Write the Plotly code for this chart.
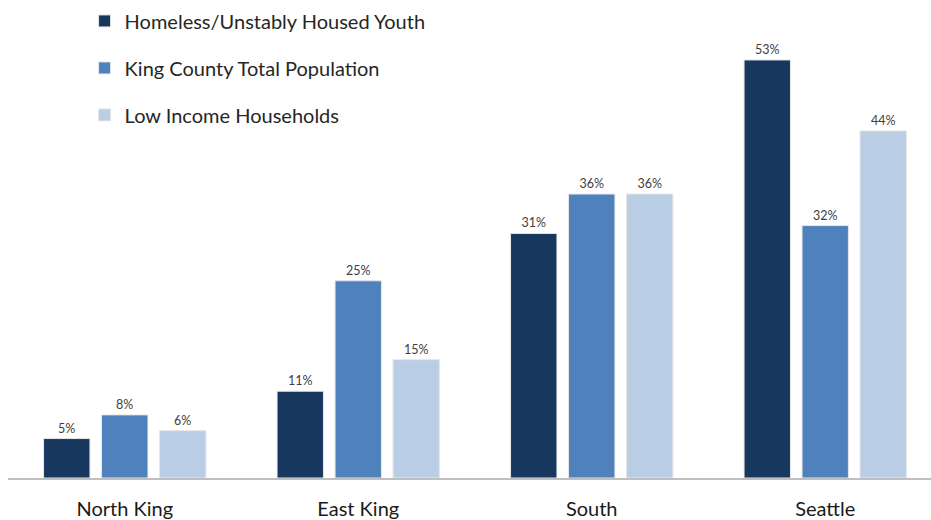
import plotly.graph_objects as go

regions = ["North King", "East King", "South", "Seattle"]
youth = [5, 11, 31, 53]
king_total = [8, 25, 36, 32]
low_income = [6, 15, 36, 44]

series = [
    ("Homeless/Unstably Housed Youth", youth, "#17375E"),
    ("King County Total Population", king_total, "#4F81BD"),
    ("Low Income Households", low_income, "#B9CDE5"),
]

x = list(range(len(regions)))
fig = go.Figure()
for i, (name, vals, color) in enumerate(series):
    fig.add_trace(go.Bar(
        x=x, y=vals, name=name, legendgroup=f"g{i}",
        marker=dict(color=color, line=dict(color="#E6E6E6", width=1)),
        text=[f"{v}%" for v in vals], textposition="outside",
        textfont=dict(family="Lato", size=12.5, color="#404040"),
        cliponaxis=False,
    ))

fig.update_layout(
    width=931, height=520,
    margin=dict(l=8, r=0, t=0, b=40),
    paper_bgcolor="white", plot_bgcolor="white",
    barmode="group", bargap=0.255, bargroupgap=0.2,
    showlegend=True,
    legend=dict(x=0.083, y=0.997, xanchor="left", yanchor="top",
                font=dict(family="Lato", size=20, color="#262626"),
                tracegroupgap=18, bgcolor="rgba(0,0,0,0)"),
    xaxis=dict(tickvals=x, ticktext=regions, range=[-0.5, 3.453],
               showline=True, linecolor="#BFBFBF", linewidth=1.5,
               showgrid=False, zeroline=False, ticks="",
               ticklabelstandoff=12,
               tickfont=dict(family="Lato", size=20, color="#1a1a1a")),
    yaxis=dict(range=[0, 60.6], visible=False, showgrid=False, zeroline=False),
)
fig.write_html("out.html")
